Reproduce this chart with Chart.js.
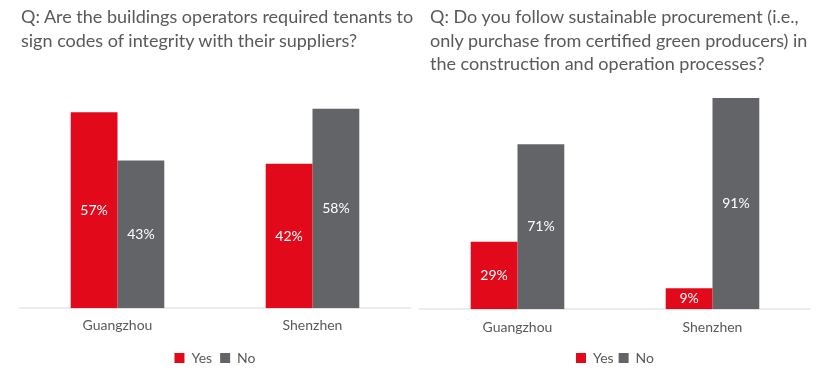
<!DOCTYPE html>
<html>
<head>
<meta charset="utf-8">
<script src="https://cdn.jsdelivr.net/npm/chart.js@4"></script>
<style>
  body { margin: 0; background: #fff; width: 833px; height: 375px; overflow: hidden; position: relative; }
  .box { position: absolute; top: 0; height: 375px; }
  .title { position: absolute; top: 5px; font-family: Lato, sans-serif; font-size: 18px; line-height: 23.5px; color: #595959; white-space: nowrap; z-index: 2; }
</style>
</head>
<body>
<div class="title" style="left:21px">Q: Are the buildings operators required tenants to<br>sign codes of integrity with their suppliers?</div>
<div class="title" style="left:430px">Q: Do you follow sustainable procurement (i.e.,<br>only purchase from certified green producers) in<br>the construction and operation processes?</div>
<div class="box" style="left:0;width:416px"><canvas id="chart1"></canvas></div>
<div class="box" style="left:418px;width:415px"><canvas id="chart2"></canvas></div>
<script>
const cities = ['Guangzhou', 'Shenzhen']
const seriesNames = ['Yes', 'No']

// chart 1: codes of integrity
const integrityYes = [57, 42]
const integrityNo = [43, 58]

// chart 2: sustainable procurement
const procurementYes = [29, 9]
const procurementNo = [71, 91]

const red = '#e20a1a'
const grey = '#636467'
const textGrey = '#595959'

Chart.defaults.font.family = 'Lato, sans-serif'
Chart.defaults.color = textGrey

const barLabels = {
  id: 'barLabels',
  afterDatasetsDraw(chart) {
    const ctx = chart.ctx
    ctx.save()
    ctx.fillStyle = '#fff'
    ctx.font = '14px Lato, sans-serif'
    ctx.textAlign = 'center'
    ctx.textBaseline = 'middle'
    chart.data.datasets.forEach((ds, i) => {
      chart.getDatasetMeta(i).data.forEach((bar, j) => {
        ctx.fillText(ds.data[j] + '%', bar.x, (bar.y + bar.base) / 2)
      })
    })
    ctx.restore()
  }
}

function makeChart(el, yes, no, yMax, pad, legendPad, tickPad) {
  return new Chart(el, {
    type: 'bar',
    data: {
      labels: cities,
      datasets: [
        { label: seriesNames[0], data: yes, backgroundColor: red },
        { label: seriesNames[1], data: no, backgroundColor: grey }
      ]
    },
    options: {
      responsive: true,
      maintainAspectRatio: false,
      animation: false,
      layout: { padding: pad },
      datasets: { bar: { categoryPercentage: 0.48, barPercentage: 1 } },
      plugins: {
        legend: {
          position: 'bottom',
          labels: { boxWidth: 10, boxHeight: 10, padding: legendPad, font: { size: 14 }, color: textGrey }
        },
        tooltip: { enabled: false }
      },
      scales: {
        x: {
          grid: { display: false, drawTicks: false },
          border: { color: '#ececec', width: 2 },
          ticks: { padding: tickPad, font: { size: 14 }, color: textGrey }
        },
        y: { display: false, min: 0, max: yMax }
      }
    },
    plugins: [barLabels]
  })
}

makeChart(document.getElementById('chart1'), integrityYes, integrityNo, 60, { top: 102, left: 20, right: 6, bottom: 0 }, 8, 9)
makeChart(document.getElementById('chart2'), procurementYes, procurementNo, 100, { top: 77, left: 2, right: 23, bottom: 0 }, 5, 10)
</script>
</body>
</html>
